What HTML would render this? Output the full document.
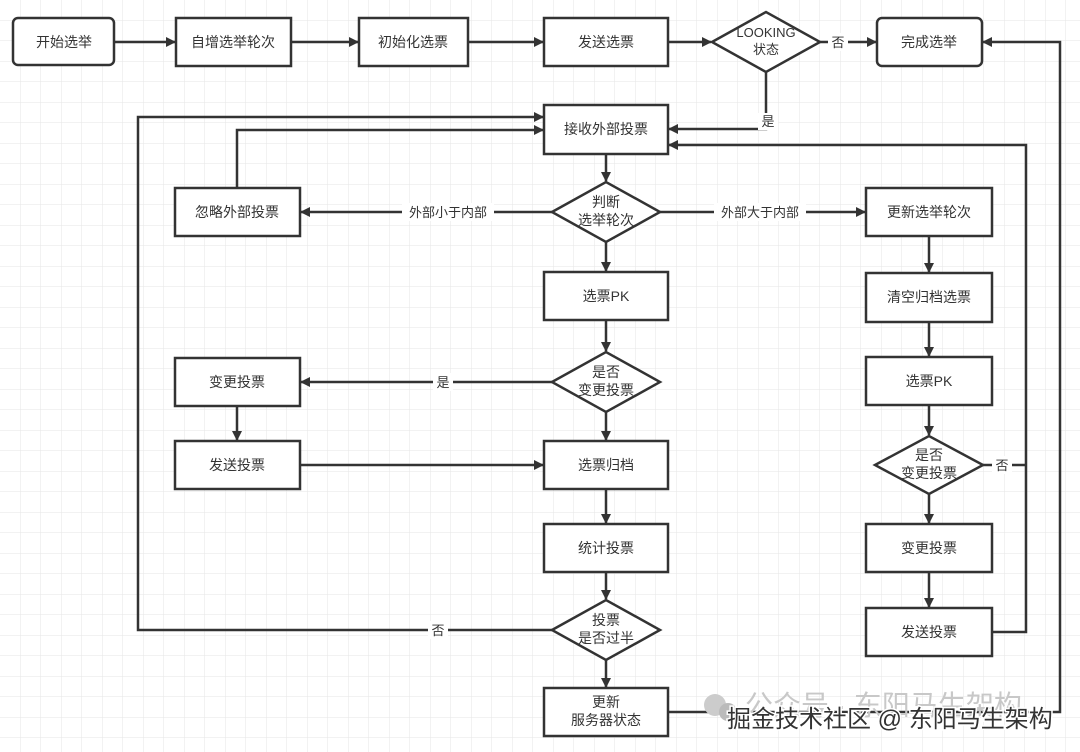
<!DOCTYPE html>
<html><head><meta charset="utf-8"><style>
html,body{margin:0;padding:0;background:#fff}
svg{display:block}
text{font-family:"Liberation Sans","Noto Sans CJK SC",sans-serif;fill:#333}
</style></head><body>
<svg width="1080" height="752" viewBox="0 0 1080 752" xmlns="http://www.w3.org/2000/svg">
<defs>
<pattern id="g" width="20.5" height="20.5" patternUnits="userSpaceOnUse">
<path d="M20.5 0V20.5M0 20.5H20.5" stroke="#e6e6e6" stroke-width="1" fill="none"/>
</pattern>
<marker id="a" markerWidth="10" markerHeight="10" refX="9" refY="5" orient="auto" markerUnits="userSpaceOnUse">
<path d="M0 0L10 5L0 10z" fill="#333"/>
</marker>
</defs>
<rect width="1080" height="752" fill="url(#g)"/>
<g stroke="#333" stroke-width="2.5" fill="none">
<!-- top row -->
<path d="M114 42H175" marker-end="url(#a)"/>
<path d="M291 42H358" marker-end="url(#a)"/>
<path d="M468 42H543" marker-end="url(#a)"/>
<path d="M668 42H711" marker-end="url(#a)"/>
<path d="M820 42H876" marker-end="url(#a)"/>
<path d="M766 72V129H669" marker-end="url(#a)"/>
<path d="M668 712H1060V42H983" marker-end="url(#a)"/>
<path d="M552 630H138V117H543" marker-end="url(#a)"/>
<path d="M237 188V130H543" marker-end="url(#a)"/>
<path d="M992 632H1026V145H669" marker-end="url(#a)"/>
<path d="M983 465H1026"/>
<!-- center column -->
<path d="M606 154V181" marker-end="url(#a)"/>
<path d="M552 212H301" marker-end="url(#a)"/>
<path d="M660 212H865" marker-end="url(#a)"/>
<path d="M606 242V271" marker-end="url(#a)"/>
<path d="M606 320V351" marker-end="url(#a)"/>
<path d="M552 382H301" marker-end="url(#a)"/>
<path d="M606 412V440" marker-end="url(#a)"/>
<path d="M237 406V440" marker-end="url(#a)"/>
<path d="M300 465H543" marker-end="url(#a)"/>
<path d="M606 489V523" marker-end="url(#a)"/>
<path d="M606 572V599" marker-end="url(#a)"/>
<path d="M606 660V687" marker-end="url(#a)"/>
<!-- right column -->
<path d="M929 236V272" marker-end="url(#a)"/>
<path d="M929 322V356" marker-end="url(#a)"/>
<path d="M929 405V435" marker-end="url(#a)"/>
<path d="M929 494V523" marker-end="url(#a)"/>
<path d="M929 572V607" marker-end="url(#a)"/>
</g>
<g stroke="#333" stroke-width="2.5" fill="#fff">
<rect x="13" y="18" width="101" height="47" rx="5"/>
<rect x="176" y="18" width="115" height="48"/>
<rect x="359" y="18" width="109" height="48"/>
<rect x="544" y="18" width="124" height="48"/>
<path d="M712 42L766 12L820 42L766 72z"/>
<rect x="877" y="18" width="105" height="48" rx="5"/>
<rect x="544" y="105" width="124" height="49"/>
<path d="M552 212L606 182L660 212L606 242z"/>
<rect x="175" y="188" width="125" height="48"/>
<rect x="866" y="188" width="126" height="48"/>
<rect x="544" y="272" width="124" height="48"/>
<rect x="866" y="273" width="126" height="49"/>
<path d="M552 382L606 352L660 382L606 412z"/>
<rect x="175" y="358" width="125" height="48"/>
<rect x="866" y="357" width="126" height="48"/>
<rect x="175" y="441" width="125" height="48"/>
<rect x="544" y="441" width="124" height="48"/>
<path d="M875 465L929 436L983 465L929 494z"/>
<rect x="544" y="524" width="124" height="48"/>
<rect x="866" y="524" width="126" height="48"/>
<path d="M552 630L606 600L660 630L606 660z"/>
<rect x="866" y="608" width="126" height="48"/>
<rect x="544" y="688" width="124" height="48"/>
</g>
<g font-size="14" text-anchor="middle">
<text x="64" y="47">开始选举</text>
<text x="233" y="47">自增选举轮次</text>
<text x="413" y="47">初始化选票</text>
<text x="606" y="47">发送选票</text>
<text x="766" y="37" font-size="13">LOOKING</text>
<text x="766" y="54" font-size="13">状态</text>
<text x="929" y="47">完成选举</text>
<text x="606" y="134">接收外部投票</text>
<text x="606" y="207">判断</text>
<text x="606" y="225">选举轮次</text>
<text x="237" y="217">忽略外部投票</text>
<text x="929" y="217">更新选举轮次</text>
<text x="606" y="301">选票PK</text>
<text x="929" y="302">清空归档选票</text>
<text x="606" y="377">是否</text>
<text x="606" y="395">变更投票</text>
<text x="237" y="387">变更投票</text>
<text x="929" y="386">选票PK</text>
<text x="237" y="470">发送投票</text>
<text x="606" y="470">选票归档</text>
<text x="929" y="460">是否</text>
<text x="929" y="478">变更投票</text>
<text x="606" y="553">统计投票</text>
<text x="929" y="553">变更投票</text>
<text x="606" y="625">投票</text>
<text x="606" y="643">是否过半</text>
<text x="929" y="637">发送投票</text>
<text x="606" y="707">更新</text>
<text x="606" y="725">服务器状态</text>
</g>
<g font-size="13" text-anchor="middle">
<rect x="828" y="33" width="20" height="18" fill="#fff"/><text x="838" y="47">否</text>
<rect x="758" y="113" width="20" height="17" fill="#fff"/><text x="768" y="126">是</text>
<rect x="402" y="203" width="92" height="18" fill="#fff"/><text x="448" y="217">外部小于内部</text>
<rect x="714" y="203" width="92" height="18" fill="#fff"/><text x="760" y="217">外部大于内部</text>
<rect x="433" y="373" width="20" height="18" fill="#fff"/><text x="443" y="387">是</text>
<rect x="992" y="456" width="20" height="18" fill="#fff"/><text x="1002" y="470">否</text>
<rect x="428" y="621" width="20" height="18" fill="#fff"/><text x="438" y="635">否</text>
</g>
<circle cx="715" cy="705" r="11" fill="#ccc"/>
<circle cx="728" cy="712" r="9" fill="#bbb"/>
<text x="745" y="715" font-size="28" style="fill:#c8c8c8">公众号 · 东阳马生架构</text>
<text x="727" y="727" font-size="24" style="fill:#333;stroke:#fff;stroke-width:3;paint-order:stroke">掘金技术社区 @ 东阳马生架构</text>
</svg>
</body></html>
